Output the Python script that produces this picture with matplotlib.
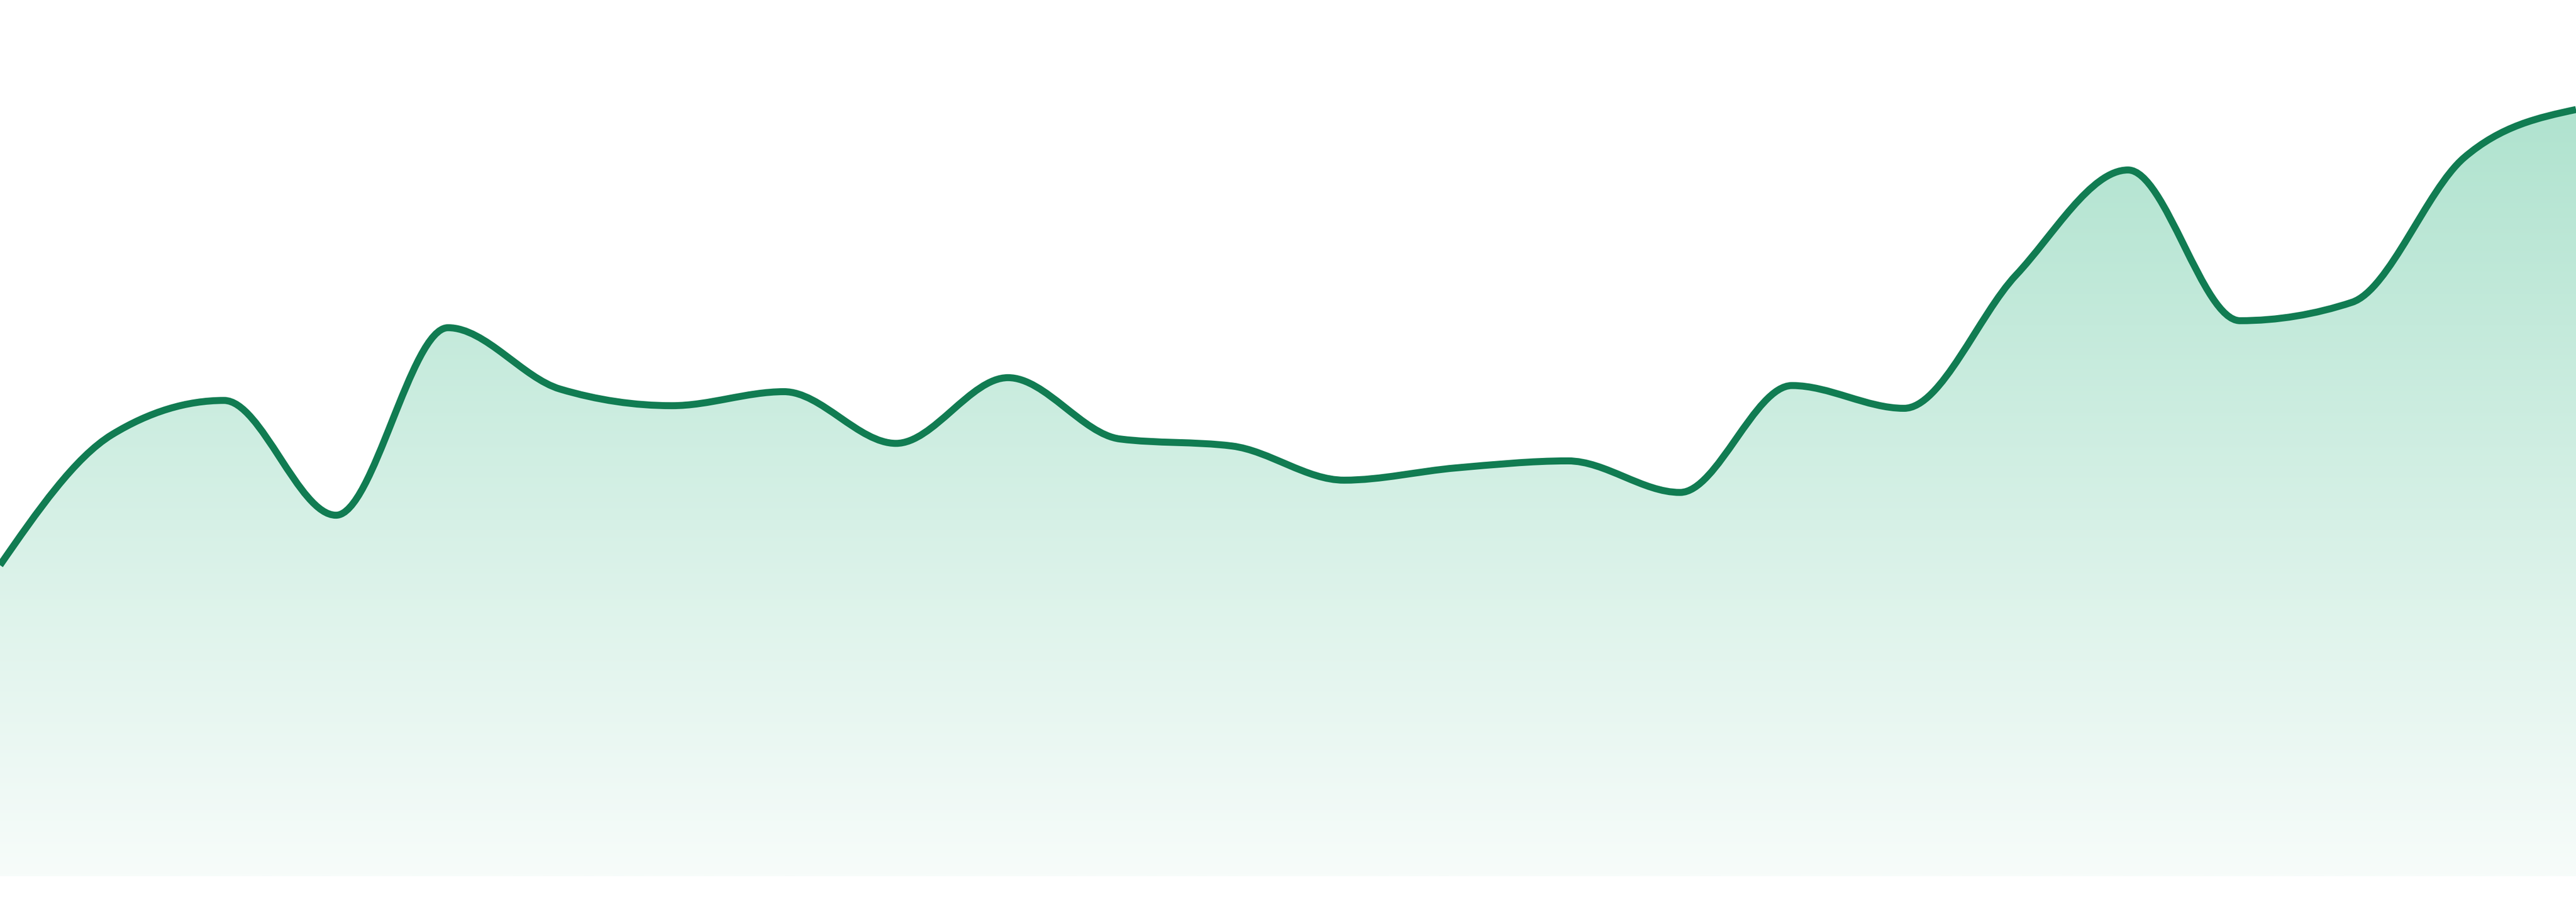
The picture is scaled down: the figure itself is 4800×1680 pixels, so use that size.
import numpy as np
import matplotlib
matplotlib.use("Agg")
import matplotlib.pyplot as plt
from matplotlib.path import Path
from matplotlib.patches import PathPatch

# ---- data ----
positions = list(range(24))
values = [35.5, 50.4, 54.3, 41.2, 62.6, 55.6, 53.7, 55.3, 49.4, 56.9, 49.9, 49.1,
          45.2, 46.6, 47.4, 43.8, 56.0, 53.4, 68.6, 80.6, 63.4, 65.5, 82.0, 87.5]

y_min, y_max = 0, 100
line_color = "#117c52"
grad_top = (176/255, 227/255, 207/255)
grad_bottom = (247/255, 252/255, 250/255)


def monotone_tangents(x, y):
    x = np.asarray(x, float)
    y = np.asarray(y, float)
    n = len(x)
    h = np.diff(x)
    s = np.diff(y) / h
    t = np.zeros(n)
    for i in range(1, n - 1):
        h0, h1 = h[i - 1], h[i]
        s0, s1 = s[i - 1], s[i]
        p = (s0 * h1 + s1 * h0) / (h0 + h1)
        t[i] = (np.sign(s0) + np.sign(s1)) * min(abs(s0), abs(s1), 0.5 * abs(p))
    t[0] = (3 * s[0] - t[1]) / 2
    t[-1] = (3 * s[-1] - t[-2]) / 2
    return t


def monotone_path_vertices(x, y):
    t = monotone_tangents(x, y)
    verts = [(x[0], y[0])]
    codes = [Path.MOVETO]
    for i in range(len(x) - 1):
        dx = (x[i + 1] - x[i]) / 3.0
        verts += [(x[i] + dx, y[i] + dx * t[i]),
                  (x[i + 1] - dx, y[i + 1] - dx * t[i + 1]),
                  (x[i + 1], y[i + 1])]
        codes += [Path.CURVE4, Path.CURVE4, Path.CURVE4]
    return verts, codes


W, H, DPI = 4800, 1680, 100
fig = plt.figure(figsize=(W / DPI, H / DPI), dpi=DPI)
fig.patch.set_facecolor("white")
ax = fig.add_axes([0, 48 / 1680, 1, 1632 / 1680])
ax.set_xlim(positions[0], positions[-1])
ax.set_ylim(y_min, y_max)
ax.axis("off")

verts, codes = monotone_path_vertices(positions, values)

# area path
area_verts = verts + [(positions[-1], y_min), (positions[0], y_min), verts[0]]
area_codes = codes + [Path.LINETO, Path.LINETO, Path.CLOSEPOLY]
area_patch = PathPatch(Path(area_verts, area_codes), facecolor="none", edgecolor="none")
ax.add_patch(area_patch)

top_val = max(values)
grad = np.linspace(0, 1, 256)[:, None]
img = np.zeros((256, 1, 3))
for k in range(3):
    img[:, 0, k] = grad_bottom[k] + (grad_top[k] - grad_bottom[k]) * grad[:, 0]
im = ax.imshow(img, extent=[positions[0], positions[-1], y_min, top_val],
               origin="lower", aspect="auto", interpolation="bilinear", zorder=1)
im.set_clip_path(area_patch)

line_patch = PathPatch(Path(verts, codes), facecolor="none", edgecolor=line_color,
                       linewidth=13 * 72 / DPI, capstyle="butt", joinstyle="round", zorder=3)
ax.add_patch(line_patch)

fig.savefig("out.png", dpi=DPI, facecolor="white")
